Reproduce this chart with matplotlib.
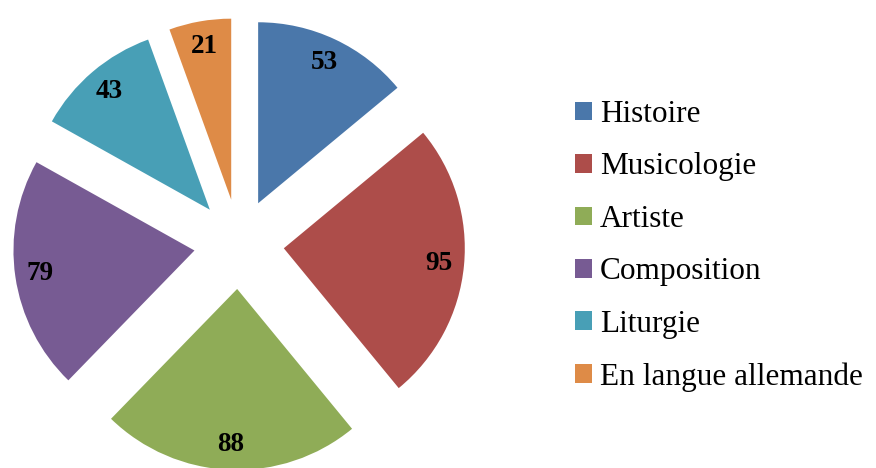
import matplotlib
matplotlib.use("Agg")
import matplotlib.pyplot as plt

categories = ["Histoire", "Musicologie", "Artiste", "Composition", "Liturgie", "En langue allemande"]
values = [53, 95, 88, 79, 43, 21]
colors = ["#4A77AA", "#AD4D4A", "#8FAC57", "#775B93", "#489FB6", "#DE8B47"]

plt.rcParams['font.family'] = ['Liberation Serif', 'DejaVu Serif']

W, H = 876, 468
fig = plt.figure(figsize=(W / 100, H / 100), dpi=100)
ax = fig.add_axes([0, 0, 1, 1])

total = sum(values)
R = 181
wedges, texts, autotexts = ax.pie(
    values, colors=colors, startangle=90, counterclock=False,
    center=(239, H - 244), radius=R, explode=[45] * len(values),
    autopct=lambda p: f"{round(p * total / 100):d}", pctdistance=0.86,
    wedgeprops=dict(linewidth=0), frame=True,
    textprops=dict(fontsize=19.5, fontweight='bold', color='black'))
ax.set_xlim(0, W)
ax.set_ylim(0, H)
ax.set_aspect('equal')
ax.axis('off')

leg = ax.legend(wedges, categories, loc='upper left', bbox_to_anchor=(575 / W, 1 - 100 / H),
                frameon=False, fontsize=22.5, handlelength=0.54, handleheight=0.54,
                handletextpad=0.26, labelspacing=0.75, borderpad=0, borderaxespad=0)

fig.savefig("out.png", dpi=100)
